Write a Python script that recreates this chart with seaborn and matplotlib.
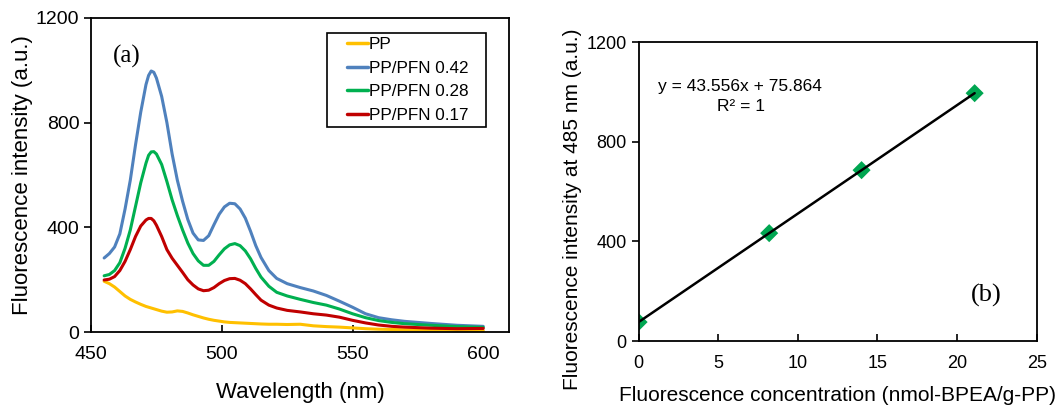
import numpy as np
import pandas as pd
import matplotlib
matplotlib.use('Agg')
import matplotlib.pyplot as plt
from matplotlib.patches import Rectangle
import seaborn as sns

# Emission spectra (a)
wavelength = [455, 457, 459, 461, 463, 465, 467, 469, 471, 472, 473, 474, 475, 477, 479,
              481, 483, 485, 487, 489, 491, 493, 495, 497, 499, 501, 503, 505, 507, 509,
              511, 513, 515, 518, 521, 525, 530, 535, 540, 545, 550, 555, 560, 565, 570,
              580, 590, 600]
pp = [194, 185, 172, 155, 138, 125, 115, 106, 98, 95, 92, 89, 86, 80, 76,
      77, 81, 79, 73, 66, 60, 54, 49, 45, 42, 39, 37, 36, 35, 34,
      33, 32, 31, 30, 30, 29, 30, 24, 21, 19, 16, 13, 11, 10, 9,
      8, 7, 6]
pfn_042 = [283, 300, 325, 375, 470, 580, 715, 840, 945, 980, 997, 992, 970, 900, 800,
           680, 580, 500, 430, 378, 352, 350, 368, 410, 450, 478, 492, 490, 470, 435,
           385, 330, 285, 235, 205, 185, 170, 157, 140, 118, 95, 70, 55, 47, 41,
           33, 26, 22]
pfn_028 = [215, 220, 235, 265, 320, 390, 480, 570, 645, 675, 688, 689, 680, 640, 575,
           505, 445, 390, 340, 300, 272, 255, 255, 270, 295, 318, 333, 338, 330, 310,
           280, 243, 210, 175, 152, 138, 125, 113, 103, 88, 70, 55, 44, 37, 32,
           26, 21, 18]
pfn_017 = [199, 202, 212, 235, 270, 315, 365, 405, 428, 434, 434, 425, 408, 365, 315,
           282, 255, 228, 200, 180, 165, 158, 160, 170, 185, 197, 204, 205, 198, 185,
           165, 143, 122, 103, 92, 83, 77, 70, 65, 57, 45, 35, 27, 22, 19,
           15, 13, 14]
series_names = ['PP', 'PP/PFN 0.42', 'PP/PFN 0.28', 'PP/PFN 0.17']
series_colors = ['#FFC000', '#4F81BD', '#00B050', '#C00000']

# Calibration (b)
concentration = [0, 8.2, 14.0, 21.1]
intensity_485 = [76, 433, 686, 995]

spec = pd.concat([
    pd.DataFrame({'wl': wavelength, 'val': v, 'sample': n})
    for n, v in zip(series_names, [pp, pfn_042, pfn_028, pfn_017])
])
calib = pd.DataFrame({'c': concentration, 'i': intensity_485})

sns.set_style('white', {'text.color': 'black', 'axes.labelcolor': 'black',
                        'xtick.color': 'black', 'ytick.color': 'black'})
plt.rcParams['font.family'] = ['Liberation Sans', 'DejaVu Sans']

fig = plt.figure(figsize=(10.59, 4.05), dpi=100)
ax1 = fig.add_axes([0.086, 0.180, 0.395, 0.776])
ax2 = fig.add_axes([0.603, 0.158, 0.376, 0.738])

# (a) spectra
sns.lineplot(data=spec, x='wl', y='val', hue='sample', hue_order=series_names,
             palette=series_colors, linewidth=2.2, ax=ax1)
ax1.set_xlim(450, 610)
ax1.set_ylim(0, 1200)
ax1.set_xticks([450, 500, 550, 600])
ax1.set_yticks([0, 400, 800, 1200])
ax1.set_xlabel('Wavelength (nm)', fontsize=16, labelpad=14)
ax1.set_ylabel('Fluorescence intensity (a.u.)', fontsize=16, labelpad=2)

# legend box with wider side padding, like the original
ax1.add_patch(Rectangle((0.565, 0.653), 0.38, 0.299, transform=ax1.transAxes,
                        facecolor='white', edgecolor='black', linewidth=1.2, zorder=4))
leg = ax1.legend(loc='upper left', bbox_to_anchor=(0.613, 0.94), fontsize=12.3,
                 frameon=False, handlelength=1.2, handletextpad=0.05,
                 borderpad=0, borderaxespad=0, labelspacing=0.52)
leg.set_zorder(5)
for line in leg.get_lines():
    line.set_linewidth(2.5)
ax1.text(0.086, 0.877, '(a)', transform=ax1.transAxes, fontsize=18,
         family='Liberation Serif', ha='center', va='center')

# (b) calibration
sns.regplot(data=calib, x='c', y='i', ci=None, truncate=True, ax=ax2,
            marker='D',
            scatter_kws={'color': '#00A651', 's': 85, 'edgecolor': 'none', 'alpha': 1},
            line_kws={'color': 'black', 'linewidth': 1.8})
ax2.set_xlim(0, 25)
ax2.set_ylim(0, 1200)
ax2.set_xticks([0, 5, 10, 15, 20, 25])
ax2.set_yticks([0, 400, 800, 1200])
ax2.set_xlabel('Fluorescence concentration (nmol-BPEA/g-PP)', fontsize=15, labelpad=10)
ax2.set_ylabel('Fluorescence intensity at 485 nm (a.u.)', fontsize=15)
ax2.yaxis.set_label_coords(-0.143, 0.44)
ax2.text(0.048, 0.85, 'y = 43.556x + 75.864', transform=ax2.transAxes, fontsize=12.5,
         va='center')
ax2.text(0.196, 0.783, 'R² = 1', transform=ax2.transAxes, fontsize=12.5, va='center')
ax2.text(0.874, 0.154, '(b)', transform=ax2.transAxes, fontsize=19,
         family='Liberation Serif', ha='center', va='center')

for ax, ls in ((ax1, 14), (ax2, 13)):
    for s in ax.spines.values():
        s.set_visible(True)
        s.set_color('black')
        s.set_linewidth(1.3)
    ax.tick_params(axis='y', direction='out', length=5, width=1.2, labelsize=ls, left=True)
    ax.tick_params(axis='x', direction='in', length=5, width=1.2, labelsize=ls, bottom=True,
                   pad=10)

fig.savefig('out.png', dpi=100)
